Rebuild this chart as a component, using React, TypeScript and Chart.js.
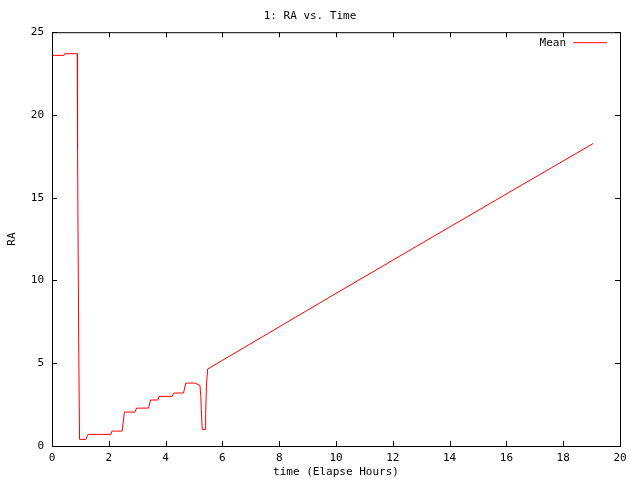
import { useEffect, useRef } from 'react'
import { Chart, registerables } from 'chart.js'

Chart.register(...registerables)

// elapsed hours and mean RA
const hours = [
  0, 0.42, 0.44, 0.89, 0.9, 0.94, 0.97, 1.19, 1.27, 2.07, 2.11, 2.47, 2.55,
  2.92, 2.98, 3.4, 3.47, 3.73, 3.77, 4.23, 4.29, 4.63, 4.71, 5.04, 5.21,
  5.24, 5.27, 5.29, 5.39, 5.41, 5.44, 5.48, 10, 14, 19.06,
]
const meanRA = [
  23.6, 23.6, 23.7, 23.7, 17.9, 6.2, 0.4, 0.4, 0.7, 0.7, 0.9, 0.9, 2.05,
  2.05, 2.29, 2.29, 2.78, 2.78, 3.0, 3.0, 3.2, 3.2, 3.8, 3.8, 3.66, 2.98,
  1.71, 1.0, 1.0, 1.97, 3.68, 4.65, 9.22, 13.23, 18.28,
]
const xTicks = [0, 2, 4, 6, 8, 10, 12, 14, 16, 18, 20]
const yTicks = [0, 5, 10, 15, 20, 25]

const mono = 'DejaVu Sans Mono'

const frame = {
  id: 'frame',
  afterDraw(chart: any) {
    const { ctx, chartArea: a, scales } = chart
    ctx.save()
    ctx.strokeStyle = '#000'
    ctx.lineWidth = 1
    ctx.strokeRect(a.left + 0.5, a.top + 0.5, a.right - a.left, a.bottom - a.top)
    ctx.beginPath()
    xTicks.forEach(v => {
      const x = Math.round(scales.x.getPixelForValue(v)) + 0.5
      ctx.moveTo(x, a.bottom); ctx.lineTo(x, a.bottom - 5)
      ctx.moveTo(x, a.top); ctx.lineTo(x, a.top + 5)
    })
    yTicks.forEach(v => {
      const y = Math.round(scales.y.getPixelForValue(v)) + 0.5
      ctx.moveTo(a.left, y); ctx.lineTo(a.left + 5, y)
      ctx.moveTo(a.right, y); ctx.lineTo(a.right - 5, y)
    })
    ctx.stroke()

    // key, top right inside the box
    ctx.font = `11px "${mono}"`
    ctx.fillStyle = '#000'
    ctx.textAlign = 'right'
    ctx.textBaseline = 'middle'
    ctx.fillText('Mean', a.right - 54, a.top + 11)
    ctx.strokeStyle = '#ff0000'
    ctx.beginPath()
    ctx.moveTo(a.right - 47, a.top + 10.5)
    ctx.lineTo(a.right - 13, a.top + 10.5)
    ctx.stroke()
    ctx.restore()
  },
}

export default function App() {
  const ref = useRef<HTMLCanvasElement>(null)

  useEffect(() => {
    if (!ref.current) return
    const chart = new Chart(ref.current, {
      type: 'scatter',
      data: {
        datasets: [{
          label: 'Mean',
          data: hours.map((h, i) => ({ x: h, y: meanRA[i] })),
          showLine: true,
          borderColor: '#ff0000',
          borderWidth: 1,
          pointRadius: 0,
          tension: 0,
        }],
      },
      options: {
        animation: false,
        responsive: true,
        maintainAspectRatio: false,
        layout: { padding: { right: 20, left: 0, top: 0, bottom: 0 } },
        plugins: {
          legend: { display: false },
          tooltip: { enabled: false },
          title: {
            display: true,
            text: '1: RA vs. Time',
            color: '#000',
            font: { family: mono, size: 11, weight: 'normal' },
            padding: { top: 10, bottom: 9 },
          },
        },
        scales: {
          x: {
            type: 'linear',
            min: 0,
            max: 20,
            afterBuildTicks: (s: any) => { s.ticks = xTicks.map(v => ({ value: v })) },
            afterFit: (s: any) => { s.height = 34 },
            grid: { display: false, drawTicks: false, tickLength: 0 },
            border: { display: false },
            ticks: { color: '#000', padding: 6, font: { family: mono, size: 11 } },
            title: {
              display: true,
              text: 'time (Elapse Hours)',
              color: '#000',
              font: { family: mono, size: 11 },
              padding: { top: 0, bottom: 1 },
            },
          },
          y: {
            min: 0,
            max: 25,
            afterBuildTicks: (s: any) => { s.ticks = yTicks.map(v => ({ value: v })) },
            afterFit: (s: any) => { s.width = 52 },
            grid: { display: false, drawTicks: false, tickLength: 0 },
            border: { display: false },
            ticks: { color: '#000', padding: 8, font: { family: mono, size: 11 } },
            title: {
              display: true,
              text: 'RA',
              color: '#000',
              font: { family: mono, size: 11 },
              padding: { top: 6, bottom: 0 },
            },
          },
        },
      },
      plugins: [frame],
    })
    return () => { chart.destroy() }
  }, [])

  return (
    <div style={{ position: 'fixed', left: 0, top: 0, width: 640, height: 480, background: '#fff' }}>
      <canvas ref={ref} />
    </div>
  )
}
